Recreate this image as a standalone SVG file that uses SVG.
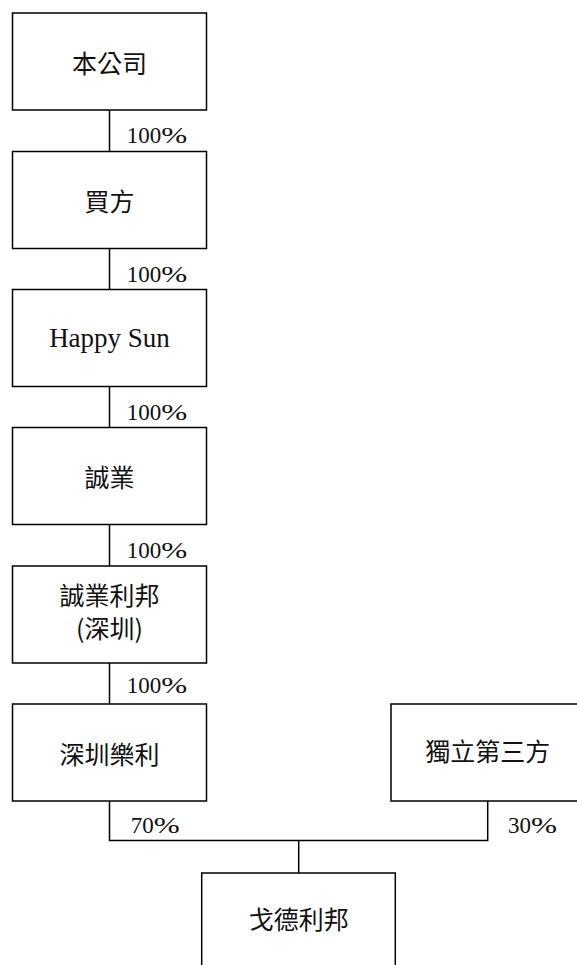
<svg xmlns="http://www.w3.org/2000/svg" width="577" height="965" viewBox="0 0 577 965">
<style>
.box{fill:#fff;stroke:#000;stroke-width:1.5}
.ln{fill:none;stroke:#000;stroke-width:1.5}
.cjk{font-family:"Noto Sans CJK TC","Noto Sans CJK SC",sans-serif;font-size:25px;fill:#111;text-anchor:middle;dominant-baseline:central}
.en{font-family:"Liberation Serif",serif;font-size:27px;fill:#111;text-anchor:middle;dominant-baseline:central}
.pct{font-family:"Liberation Serif",serif;font-size:23px;fill:#111}
</style>
<rect width="577" height="965" fill="#fff"/>
<g id="connectors">
<line class="ln" x1="109.5" y1="110" x2="109.5" y2="151.5"/>
<line class="ln" x1="109.5" y1="248.5" x2="109.5" y2="289.5"/>
<line class="ln" x1="109.5" y1="386.5" x2="109.5" y2="427.5"/>
<line class="ln" x1="109.5" y1="524.5" x2="109.5" y2="566"/>
<line class="ln" x1="109.5" y1="663" x2="109.5" y2="704"/>
<polyline class="ln" points="109.5,801 109.5,840.5 487.7,840.5 487.7,801"/>
<line class="ln" x1="298.7" y1="840.5" x2="298.7" y2="873"/>
<text class="pct" x="126.7" y="143">100<tspan textLength="26" lengthAdjust="spacingAndGlyphs">%</tspan></text>
<text class="pct" x="126.7" y="281.5">100<tspan textLength="26" lengthAdjust="spacingAndGlyphs">%</tspan></text>
<text class="pct" x="126.7" y="419.5">100<tspan textLength="26" lengthAdjust="spacingAndGlyphs">%</tspan></text>
<text class="pct" x="126.7" y="557.5">100<tspan textLength="26" lengthAdjust="spacingAndGlyphs">%</tspan></text>
<text class="pct" x="126.7" y="692.5">100<tspan textLength="26" lengthAdjust="spacingAndGlyphs">%</tspan></text>
<text class="pct" x="130.7" y="833">70<tspan textLength="26" lengthAdjust="spacingAndGlyphs">%</tspan></text>
<text class="pct" x="508" y="833">30<tspan textLength="26" lengthAdjust="spacingAndGlyphs">%</tspan></text>
</g>
<g id="n1"><rect class="box" x="12.5" y="13" width="194" height="97"/><text class="cjk" x="109.5" y="61.5">本公司</text></g>
<g id="n2"><rect class="box" x="12.5" y="151.5" width="194" height="97"/><text class="cjk" x="109.5" y="200">買方</text></g>
<g id="n3"><rect class="box" x="12.5" y="289.5" width="194" height="97"/><text class="en" x="109.5" y="338">Happy Sun</text></g>
<g id="n4"><rect class="box" x="12.5" y="427.5" width="194" height="97"/><text class="cjk" x="109.5" y="476">誠業</text></g>
<g id="n5"><rect class="box" x="12.5" y="566" width="194" height="97"/><text class="cjk" x="109.5" y="594">誠業利邦</text><text class="cjk" x="109.5" y="627">(深圳)</text></g>
<g id="n6"><rect class="box" x="12.5" y="704" width="194" height="97"/><text class="cjk" x="109.5" y="752.5">深圳樂利</text></g>
<g id="n7"><rect class="box" x="391" y="704" width="194" height="97"/><text class="cjk" x="487.7" y="750">獨立第三方</text></g>
<g id="n8"><rect class="box" x="201.7" y="873" width="193.6" height="100"/><text class="cjk" x="298.7" y="918">戈德利邦</text></g>
</svg>
